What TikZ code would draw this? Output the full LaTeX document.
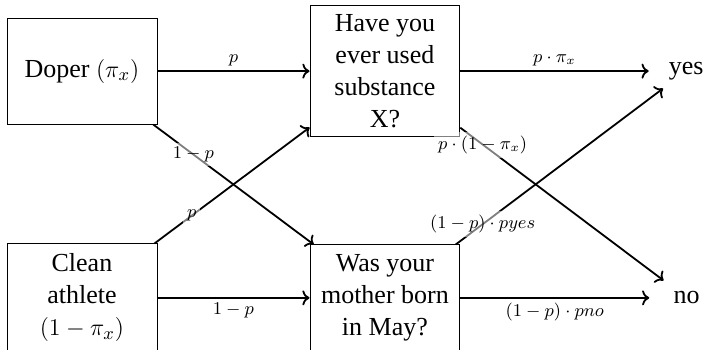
\documentclass[tikz,border=0pt]{standalone}
\usepackage{amsmath}
\usepackage{fontspec}
\setmainfont{Liberation Serif}
\usepackage{tikz}
\usetikzlibrary{arrows.meta}

\begin{document}
\begin{tikzpicture}[font=\fontsize{13}{16}\selectfont]
\tikzset{box/.style={draw,minimum width=75pt,align=center,inner sep=2pt},
  lbl/.style={font=\fontsize{9}{11}\selectfont,fill=white,fill opacity=0.5,text opacity=1,inner sep=2pt},
  arr/.style={->,line width=0.9pt},
  res/.style={minimum width=37pt,minimum height=17pt}}
\useasboundingbox (0,0) rectangle (12.41,6.15);
% who answers
\node[box,minimum height=53pt] (doper) at (1.44,4.90){Doper $(\pi_x)$};
\node[box,minimum height=54pt] (clean) at (1.44,0.914){Clean\\athlete\\$(1-\pi_x)$};
% the two questions
\node[box,minimum height=65.5pt] (have) at (6.766,4.90){Have you\\ever used\\substance\\X?};
\node[box,minimum height=53pt] (was) at (6.766,0.914){Was your\\mother born\\in May?};
% answers
\node[res] (yes) at (12.06,4.90){yes};
\node[res] (no) at (12.07,0.914){no};
\draw[arr] (doper) -- node[lbl,above]{$p$} (have);
\draw[arr] (doper) -- node[lbl,pos=0.25]{$1-p$} (was);
\draw[arr] (clean) -- node[lbl,pos=0.24]{$p$} (have);
\draw[arr] (clean) -- node[lbl,below]{$1-p$} (was);
\draw[arr] (have) -- node[lbl,above]{$p\cdot\pi_x$} (yes);
\draw[arr] (have) -- node[lbl,pos=0.11]{$p\cdot(1-\pi_x)$} (no);
\draw[arr] (was) -- node[lbl,pos=0.13]{$(1-p)\cdot pyes$} (yes);
\draw[arr] (was) -- node[lbl,below]{$(1-p)\cdot pno$} (no);
\end{tikzpicture}
\end{document}
